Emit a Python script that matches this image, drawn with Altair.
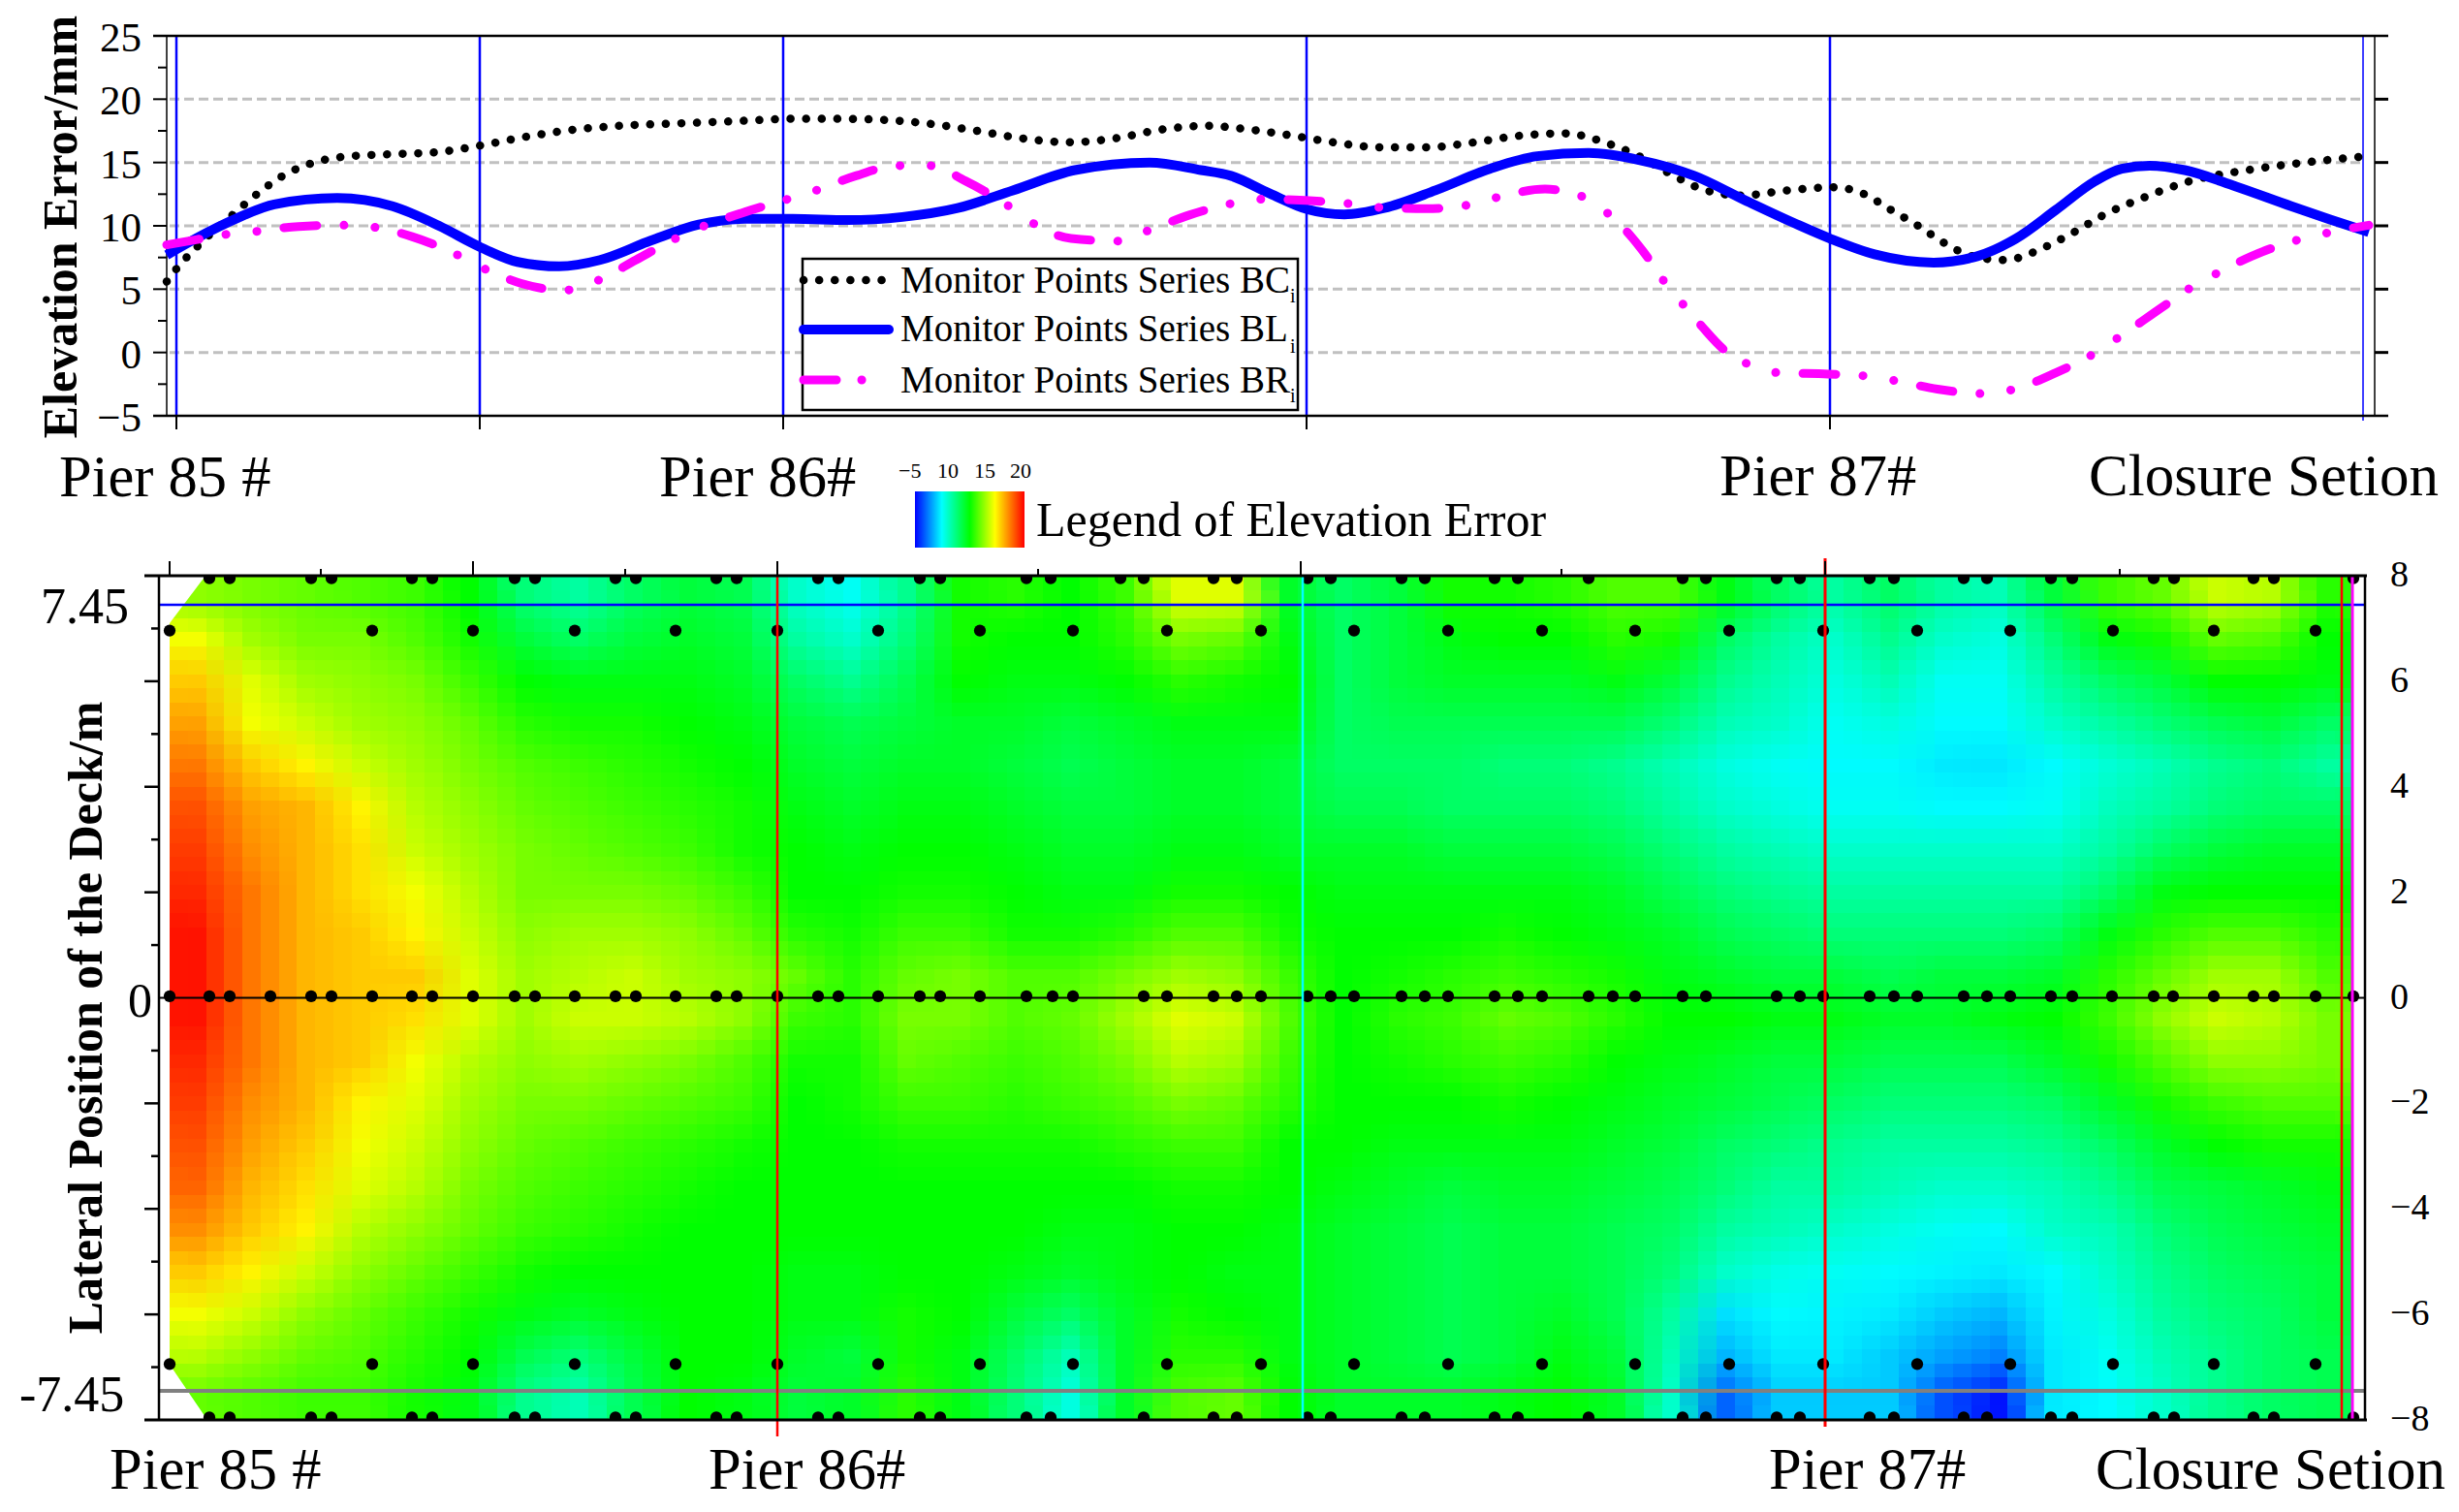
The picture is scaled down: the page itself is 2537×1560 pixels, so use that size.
import altair as alt
import pandas as pd

FONT = "Liberation Serif"

# ---------- upper panel: elevation error curves (x = station along the deck) ----------
bc_x = [-10,0,22,57,83,111,142,172,219,267,314,362,411,458,522,587,636,684,733,778,826,873,921,968,1016,1065,
        1096,1145,1193,1242,1290,1335,1384,1432,1477,1509,1538,1578,1614,1663,1709,1740,1768,1797,1825,1853,1886,
        1930,1959,1987,2032,2076,2141,2190,2254]
bc_v = [5.6,6.6,8.4,10.8,12.5,14,15,15.45,15.65,15.8,16.35,17.05,17.6,17.9,18.1,18.3,18.45,18.45,18.35,18.05,17.5,16.9,16.6,16.9,17.6,17.9,
        17.7,17.2,16.6,16.2,16.2,16.55,17.1,17.3,16.5,15.5,14.25,12.8,12.4,12.8,13.05,12.55,11.3,10,8.6,7.6,7.3,
        8.4,9.55,10.8,12.3,13.5,14.45,14.95,15.45]
bl_x = [-10,20,61,101,166,223,271,314,352,395,437,490,539,587,636,693,749,806,863,927,1004,1057,
        1088,1128,1167,1205,1246,1299,1355,1404,1457,1509,1566,1623,1671,1706,1752,1813,1858,1898,1939,1979,2007,2036,2072,2125,2182,2222,2262]
bl_v = [7.7,9,10.55,11.7,12.2,11.55,10,8.3,7.15,6.8,7.3,8.85,10.1,10.55,10.55,10.45,10.7,11.4,12.8,14.4,15,14.4,
        13.95,12.55,11.3,10.9,11.4,12.8,14.5,15.5,15.75,15.2,13.95,11.85,10.15,9,7.75,7.1,7.6,9,11.25,13.5,14.5,14.75,14.4,13.1,11.55,10.5,9.5]
br_x = [-10,20,49,81,126,170,203,243,286,314,356,399,432,474,510,540,587,626,658,701,743,778,814,856,884,923,970,1000,1045,
        1088,1120,1165,1210,1242,1290,1333,1363,1412,1451,1475,1501,1517,1535,1555,1574,1597,1621,1653,1704,1742,1775,1817,1864,1896,1939,1977,2003,2052,2080,2109,2141,2194,2226,2262]
br_v = [8.5,8.9,9.3,9.55,9.95,10.05,9.9,9.15,7.85,6.75,5.45,4.9,5.6,7.3,8.8,9.85,11.1,12,12.75,13.95,14.75,14.75,13.55,11.7,10.2,9,8.8,9.55,10.85,
        11.75,12.1,12,11.75,11.45,11.35,11.65,12.25,12.9,12.3,11.1,9.15,7.6,5.6,3.75,2.05,0.2,-0.9,-1.6,-1.7,-1.85,-2.25,-2.9,-3.25,-2.9,-1.6,-0.15,1.15,3.75,5.2,6.4,7.6,9,9.55,10.05]
top_piers = [0,313,626,1166,1706,2256]
top_major = [25,20,15,10,5,0,-5]
top_minor = [22.5,17.5,12.5,7.5,2.5,-2.5]
top_grid = [20,15,10,5,0]
top_labels = ["25","20","15","10","5","0","\u22125"]

# ---------- lower panel: contour surface read column by column ----------
heat_cols = [
 [11,13.5,15,16,17,18,18.5,19,19.5,19.5,19.5,19,18.5,18,17.5,16.5,15,13.5,12,10],
 [10.5,11.5,13,13.5,15,16,16.5,17,17,17,17,17,16.5,16,15.5,15,14,12.5,11,9.5],
 [10,10.5,11.5,12.5,14,15.5,15.5,15.5,15.5,15.5,15.5,15.5,15.5,15,14.5,14,12.5,11,10,9],
 [9.5,10.5,11,11.5,12.5,14,14.5,14.5,15,15,15,15,14,13.5,13,12,11,10,9.5,9],
 [9,9.5,10.5,11,11.5,12,12.5,13.5,14,15,14.5,13.5,13,12.5,12,11,10,9,8.5,8],
 [7.5,8,9,10,10.5,11,11.5,12,12.5,13,13,12,11.5,11,10.5,10,9,8,7.5,7],
 [4.5,6,7.5,8.5,9.5,10,10.5,10.5,11,11.5,11.5,11,10.5,10,9.5,9,8,7,5.5,4],
 [3.5,5,7,8,9,9.5,10,10.5,11.5,12,12.5,11.5,10.5,9.5,9,8.5,7.5,6.5,4.5,3],
 [5,6,7,8,8.5,9,9.5,10.5,11.5,12.5,12.5,11,10,9,8.5,8,7.5,7,6,5.5],
 [6,6.5,7,7.5,8,8.5,9,10,11,11.5,12,10.5,9.5,8.5,8,7.5,7.5,7.5,7.5,7.5],
 [5.5,6,6.5,7,7.5,8,8,9,10,11,11,9.5,9,8,7.5,7.5,7.5,7.5,7.5,7],
 [2.5,3.5,5,6,6.5,7,7.5,7.5,8.5,10,9,8,7.5,7.5,7.5,7.5,7,7,6.5,6],
 [1.5,2.5,4,5.5,6,6.5,7,7.5,8,8.5,8.5,8,8,7.5,7.5,7.5,7,7,6,6.5],
 [4,4.5,5.5,6,6.5,7,7.5,8,9,10,10.5,10,9,8,7.5,7.5,7.5,8,8,8.5],
 [8,8,7.5,6.5,6.5,7,7.5,8,9,10.5,10.5,9.5,9,8,7.5,7.5,7.5,7.5,7,7],
 [8.5,7.5,7,6.5,6,6.5,7,7.5,8,9.5,9.5,9,8.5,8,7.5,7.5,7,6,5,4.5],
 [7.5,7.5,7,6,5.5,6,6.5,7,8,9.5,10,9.5,9,8,7.5,7,6.5,5,3,2],
 [9,8.5,7.5,6.5,6,6,6.5,7,8.5,10.5,11.5,10.5,9.5,8.5,7.5,7,7,6.5,6.5,6.5],
 [13,10.5,8.5,7,6.5,6.5,7,8,9.5,11.5,13,12,10.5,9,8,7.5,7.5,8,8.5,9.5],
 [13,10,8,7,6.5,6.5,7,8,9.5,11,12.5,11.5,10,9,8,7.5,7,7.5,8.5,10],
 [6.5,7,7.5,7,6,6,6.5,7.5,8,9,9.5,9,8.5,7.5,7.5,7,7,7,7,7.5],
 [5,5,5,5,5,5.5,6.5,7,7.5,7.5,7.5,7.5,7.5,7.5,7,6.5,6.5,6.5,6.5,6.5],
 [6,6,6,5.5,5,5.5,6.5,7,7.5,8,8.5,8,7.5,7,6.5,6,6,6,6,6.5],
 [8,7,6.5,5.5,5,5,6,7,7.5,8.5,9,8.5,7.5,7,6,5.5,5.5,5.5,5.5,6.5],
 [8,7.5,6.5,5.5,4.5,5,6,7,8,9,10,9,8,7,6.5,6,6,6,6,7],
 [8.5,7.5,6.5,5.5,4.5,5,6,7,7.5,8.5,9.5,8.5,7.5,7,6.5,6,6,6.5,7,7.5],
 [9.5,8.5,7,5.5,4,4.5,5.5,6.5,7,8,8.5,7.5,7,6.5,6,5.5,5.5,5.5,6,6.5],
 [9.5,8,6,4.5,3,3.5,4.5,5.5,6.5,7,7.5,7,6.5,6,5.5,5,4.5,3.5,3,2.5],
 [7,5,4,3,2,2.5,3.5,4.5,5.5,6.5,7.5,6.5,6,5,4.5,3.5,2.5,0.5,-0.5,-2.5],
 [5,3.5,3,2.5,1.5,2,3,4,5,6,7,6,5.5,4.5,3.5,3,1.8,1.2,0.8,0],
 [3.5,2.5,2,1.5,1.2,1.5,2.5,3.5,4.5,6,7,6,5,4,3.5,2.5,1.5,1,0.8,0],
 [5,4,3,2,1.2,1.5,2.5,3.5,4.5,5.5,6.5,5.5,4.5,3.5,3,2,1.2,0.8,0,0],
 [3.5,2.5,1.5,1.2,0.8,1.2,2.5,3.5,4.5,6,6.5,5.5,4.5,3.5,2.5,1.5,1,0,-1,-3],
 [3,2,1.5,1.2,0.7,1.2,2.5,3.5,4.5,6,7,5.5,4.5,3.5,2.5,1.2,0.8,-0.5,-1.8,-4.5],
 [6,4.5,3.5,2.5,1.2,1.5,2.5,3.5,5,6.5,7.5,6.5,5,4,3,2.5,1.2,1,0.8,0.8],
 [9,7,5,3.5,2.2,2.8,3.5,5,7,8.5,9,8,6.5,5,4,3,2.5,2,1.5,1.2],
 [10,8,6,4.5,3,3.5,5,7,8.5,10,11,9.5,8,6.5,5.5,4.5,4,3.5,3,2.5],
 [12.5,10,7.5,5.5,4,4.5,6,7.5,9.5,11.5,12.5,11,9,7.5,6,5.5,5,4.5,4,4],
 [12,9.5,7.5,6,4.5,5,6.5,7.5,9.5,11.5,12,11,9.5,8,6.5,6,5.5,5,5,5],
 [8.5,7.5,7,5,3.5,5,6.5,7.5,8.5,9.5,10.5,10.5,9.5,8,7,6.5,6,6,5.5,5.5],
]
heat_levels = [-5, 1.25, 7.5, 13.75, 20]
heat_colors = ["#0000ff", "#00ffff", "#00ff00", "#ffff00", "#ff0000"]
surface_end = 2253

dots_edge_top = [41,62,146,167,250,271,356,377,460,481,564,585,669,690,774,795,884,909,981,1005,1077,
                 1101,1174,1198,1271,1295,1367,1391,1464,1561,1585,1658,1682,1754,1779,1851,1875,1941,1963,2047,2068,2150,2171,2253]
dots_edge_bot = [41,62,146,167,250,271,356,377,460,481,564,585,669,690,774,795,884,909,1005,1077,
                 1101,1174,1198,1271,1295,1367,1391,1464,1561,1585,1658,1682,1754,1779,1851,1875,1941,1963,2047,2068,2150,2171,2253]
dots_inner = [0,209,313,418,522,627,731,836,932,1029,1126,1222,1319,1416,1512,1609,1706,1803,1899,2005,2109,2214]
dots_center = [0,41,62,104,146,167,209,250,271,313,356,377,418,460,481,522,564,585,627,669,690,731,774,795,836,884,911,932,1005,1029,1077,
               1101,1126,1174,1198,1222,1271,1295,1319,1367,1391,1416,1464,1489,1512,1561,1585,1658,1682,1706,1754,1779,1803,1851,1875,1899,1941,1963,2004,2047,2067,2109,2150,2171,2214,2253]
row_levels = [7.95, 6.96, 0.03, -6.94, -7.95]

bot_major_x = [0,313,627,1167,1708]
bot_minor_x = [156,470,896,1436,2012]
right_ticks = [8,6,4,2,0,-2,-4,-6,-8]
right_labels = ["8","6","4","2","0","\u22122","\u22124","\u22126","\u22128"]
left_major = [6,4,2,-2,-4,-6]
left_minor = [7,5,3,1,-1,-3,-5,-7]

# ---------- scales ----------
X_TOP = alt.Scale(domain=[-24, 2282])
Y_TOP = alt.Scale(domain=[-5, 25])
X_BOT = alt.Scale(domain=[-17, 2267])
Y_BOT = alt.Scale(domain=[-8, 8])
W_TOP, H_TOP = 2306, 392
W_BOT, H_BOT = 2284, 871
ONE = pd.DataFrame({"a": [0]})


def vals(**k):
    return pd.DataFrame(k)


def box_rule(x0, y0, x1, y1, color="black", w=2.5, **kw):
    return alt.Chart(ONE).mark_rule(color=color, strokeWidth=w, **kw).encode(
        x=alt.value(x0), x2=alt.value(x1), y=alt.value(y0), y2=alt.value(y1))


def label(text, x, y, size, align="left", bold=False, angle=None, baseline="alphabetic"):
    kw = {"angle": angle} if angle is not None else {}
    return alt.Chart(vals(t=[text])).mark_text(
        font=FONT, fontSize=size, align=align, baseline=baseline, color="black",
        fontWeight="bold" if bold else "normal", **kw
    ).encode(x=alt.value(x), y=alt.value(y), text="t:N")


# ---------- upper panel ----------
def TX(px):
    return px - 158


def TY(py):
    return py - 37


def x_t(f):
    return alt.X(f, type="quantitative", scale=X_TOP, axis=None)


def y_t(f):
    return alt.Y(f, type="quantitative", scale=Y_TOP, axis=None)


grid = alt.Chart(vals(v=top_grid)).mark_rule(color="#c0c0c0", strokeWidth=3, strokeDash=[10, 5]).encode(
    y=y_t("v"), x=alt.value(TX(175)), x2=alt.value(TX(2440)))
pier_lines = alt.Chart(vals(p=top_piers[:-1])).mark_rule(color="#0000ff", strokeWidth=2.5).encode(
    x=x_t("p"), y=alt.value(0), y2=alt.value(H_TOP))
pier_ticks = alt.Chart(vals(p=top_piers[:-1])).mark_rule(color="black", strokeWidth=2).encode(
    x=x_t("p"), y=alt.value(H_TOP), y2=alt.value(H_TOP + 14))
end_line = alt.Chart(vals(p=top_piers[-1:])).mark_rule(color="#0000ff", strokeWidth=1.5).encode(
    x=x_t("p"), y=alt.value(0), y2=alt.value(H_TOP + 5))
tick_major = alt.Chart(vals(v=top_major)).mark_rule(color="black", strokeWidth=2).encode(
    y=y_t("v"), x=alt.value(0), x2=alt.value(14))
tick_minor = alt.Chart(vals(v=top_minor)).mark_rule(color="black", strokeWidth=2).encode(
    y=y_t("v"), x=alt.value(5), x2=alt.value(14))
tick_right = alt.Chart(vals(v=top_grid)).mark_rule(color="black", strokeWidth=3).encode(
    y=y_t("v"), x=alt.value(TX(2450)), x2=alt.value(TX(2464)))
tick_text = alt.Chart(vals(v=top_major, t=top_labels)).mark_text(
    font=FONT, fontSize=43, align="right", baseline="middle", dy=3, color="black").encode(
    y=y_t("v"), x=alt.value(TX(146)), text="t:N")

curve_bc = alt.Chart(vals(x=bc_x, v=bc_v)).mark_line(
    color="black", strokeWidth=8.5, strokeCap="round", strokeDash=[0.1, 16], interpolate="monotone").encode(
    x=x_t("x"), y=y_t("v"))
curve_bl = alt.Chart(vals(x=bl_x, v=bl_v)).mark_line(
    color="#0000ff", strokeWidth=10, interpolate="monotone").encode(x=x_t("x"), y=y_t("v"))
curve_br = alt.Chart(vals(x=br_x, v=br_v)).mark_line(
    color="#ff00ff", strokeWidth=9, strokeCap="round", strokeDash=[34, 28, 0.1, 32, 0.1, 28],
    interpolate="monotone").encode(x=x_t("x"), y=y_t("v"))

legend_box = alt.Chart(ONE).mark_rect(fill="white", stroke="black", strokeWidth=2.5).encode(
    x=alt.value(TX(828)), x2=alt.value(TX(1339)), y=alt.value(TY(267)), y2=alt.value(TY(423)))
legend_rows = []
for name, row_y, base, sub_base, kw in [
    ("BC", 289, 302, 312, dict(color="black", w=8.5, strokeCap="round", strokeDash=[0.1, 16])),
    ("BL", 340, 352, 364, dict(color="#0000ff", w=10, strokeCap="round")),
    ("BR", 392, 405, 415, dict(color="#ff00ff", w=9, strokeCap="round", strokeDash=[34, 26, 0.1, 60])),
]:
    legend_rows.append(box_rule(TX(829), TY(row_y), TX(917), TY(row_y), **kw))
    legend_rows.append(label("Monitor Points Series " + name, TX(929), TY(base), 39))
    legend_rows.append(label("i", TX(1331), TY(sub_base), 20))

bar = alt.Chart(ONE).mark_rect(color=alt.LinearGradient(
    gradient="linear", x1=0, x2=1, y1=0, y2=0,
    stops=[alt.GradientStop(color="#0000ff", offset=0),
           alt.GradientStop(color="#00ffff", offset=0.245),
           alt.GradientStop(color="#00ff00", offset=0.5),
           alt.GradientStop(color="#ffff00", offset=0.73),
           alt.GradientStop(color="#ff0000", offset=1)])).encode(
    x=alt.value(TX(944)), x2=alt.value(TX(1057)), y=alt.value(TY(507)), y2=alt.value(TY(565)))

top = alt.layer(
    grid, pier_lines, pier_ticks, end_line,
    box_rule(0, 0, W_TOP, 0), box_rule(0, H_TOP, W_TOP, H_TOP),
    box_rule(TX(172), 0, TX(172), H_TOP, w=1.5), box_rule(TX(2450), 0, TX(2450), H_TOP, w=1.5),
    tick_major, tick_minor, tick_right, tick_text,
    curve_bc, curve_bl, curve_br, legend_box, *legend_rows, bar,
    label("Elevation Error/mm", TX(79), TY(234), 50, align="center", bold=True, angle=270),
    label("Pier 85 #", TX(61), TY(512), 60.5),
    label("Pier 86#", TX(680), TY(512), 60.5),
    label("Pier 87#", TX(1774), TY(511), 60.5),
    label("Closure Setion", TX(2155), TY(511), 61),
    label("\u22125", TX(927), TY(493), 22), label("10", TX(967), TY(493), 22),
    label("15", TX(1005), TY(493), 22), label("20", TX(1042), TY(493), 22),
    label("Legend of Elevation Error", TX(1069), TY(553), 50),
).properties(width=W_TOP, height=H_TOP)


# ---------- lower panel ----------
def BX(px):
    return px - 158


def BY(py):
    return py - 594


def x_b(f):
    return alt.X(f, type="quantitative", scale=X_BOT, axis=None)


def y_b(f):
    return alt.Y(f, type="quantitative", scale=Y_BOT, axis=None)


n_cols, n_rows = len(heat_cols), len(heat_cols[0])
col_w, row_px = surface_end / n_cols, H_BOT / n_rows
to_y = lambda p: 8 - p * 16 / H_BOT
color_enc = alt.Color("z:Q", legend=None,
                      scale=alt.Scale(domain=heat_levels, range=heat_colors, interpolate="rgb"))


def heat_layer(dx, dy, alpha):
    # the same read cells drawn again, shifted by part of a cell, so that edges soften
    cells = []
    for i, col in enumerate(heat_cols):
        x0 = max(0, round((i + dx) * col_w))
        x1 = min(surface_end, round((i + 1 + dx) * col_w))
        for j, z in enumerate(col):
            p0 = max(0, round((j + dy) * row_px))
            p1 = min(H_BOT, round((j + 1 + dy) * row_px))
            if x1 > x0 and p1 > p0:
                cells.append({"x": x0, "x2": x1, "y": to_y(p0), "y2": to_y(p1), "z": z})
    return alt.Chart(pd.DataFrame(cells)).mark_rect(clip=True, opacity=alpha).encode(
        x=x_b("x"), x2="x2:Q", y=y_b("y"), y2="y2:Q", color=color_enc)


shifts = [(0, 0), (-1/3, -1/3), (1/3, 1/3), (-1/3, 1/3), (1/3, -1/3),
          (0, -1/3), (0, 1/3), (-1/3, 0), (1/3, 0)]
heat_layers = [heat_layer(dx, dy, 1 / (k + 1)) for k, (dx, dy) in enumerate(shifts)]

mask_top = alt.Chart(vals(x=[0, 37], y=[7.1, 8], y2=[8, 8])).mark_area(color="white", clip=True).encode(
    x=x_b("x"), y=y_b("y"), y2="y2:Q")
mask_bot = alt.Chart(vals(x=[0, 37], y=[-6.95, -7.95], y2=[-8, -8])).mark_area(color="white", clip=True).encode(
    x=x_b("x"), y=y_b("y"), y2="y2:Q")

dot_rows = pd.concat([
    vals(x=dots_edge_top, y=row_levels[0]),
    vals(x=dots_inner, y=row_levels[1]),
    vals(x=dots_center, y=row_levels[2]),
    vals(x=dots_inner, y=row_levels[3]),
    vals(x=dots_edge_bot, y=row_levels[4]),
])
dots = alt.Chart(dot_rows).mark_circle(color="black", opacity=1, size=150, clip=True).encode(
    x=x_b("x"), y=y_b("y"))


def bline(x0, x1, y, color, w):
    return alt.Chart(vals(v=[y])).mark_rule(color=color, strokeWidth=w).encode(
        y=y_b("v"), x=alt.value(x0), x2=alt.value(x1))


def vline(st, y0, y1, color, w):
    return alt.Chart(vals(p=[st])).mark_rule(color=color, strokeWidth=w).encode(
        x=x_b("p"), y=alt.value(y0), y2=alt.value(y1))


ticks_top_major = alt.Chart(vals(p=bot_major_x)).mark_rule(color="black", strokeWidth=2).encode(
    x=x_b("p"), y=alt.value(-15), y2=alt.value(0))
ticks_top_minor = alt.Chart(vals(p=bot_minor_x)).mark_rule(color="black", strokeWidth=2).encode(
    x=x_b("p"), y=alt.value(-7), y2=alt.value(0))
ticks_left_major = alt.Chart(vals(v=left_major)).mark_rule(color="black", strokeWidth=2.5).encode(
    y=y_b("v"), x=alt.value(BX(149)), x2=alt.value(BX(164)))
ticks_left_minor = alt.Chart(vals(v=left_minor)).mark_rule(color="black", strokeWidth=2.5).encode(
    y=y_b("v"), x=alt.value(BX(156)), x2=alt.value(BX(164)))
right_text = alt.Chart(vals(v=right_ticks, t=right_labels)).mark_text(
    font=FONT, fontSize=38, align="left", baseline="middle", color="black").encode(
    y=y_b("v"), x=alt.value(BX(2466)), text="t:N")

bottom = alt.layer(
    *heat_layers, mask_top, mask_bot, dots,
    bline(BX(164), BX(2440), 7.45, "#0000ff", 2.5),
    bline(BX(164), BX(2440), 0, "black", 2),
    bline(BX(164), BX(2440), -7.45, "#808080", 4),
    vline(627, 0, H_BOT + 17, "#ff0000", 2.5),
    vline(1169, 0, H_BOT, "#00ffff", 2.5),
    vline(1708, -18, H_BOT + 7, "#ff0000", 3),
    vline(2241, 0, H_BOT, "#ff0000", 2.5),
    vline(2252, 0, H_BOT, "#ff00ff", 3),
    box_rule(BX(149), 0, BX(2442), 0, w=3),
    box_rule(BX(149), H_BOT, BX(2442), H_BOT, w=3),
    box_rule(BX(164), 0, BX(164), H_BOT, w=2.5),
    box_rule(BX(2440), 0, BX(2440), H_BOT, w=2.5),
    ticks_top_major, ticks_top_minor, ticks_left_major, ticks_left_minor, right_text,
    label("7.45", BX(42), BY(643), 52),
    label("0", BX(132), BY(1049), 50),
    label("-7.45", BX(20), BY(1456), 52),
    label("Lateral Position of the Deck/m", BX(105), BY(1050), 50, align="center", bold=True, angle=270),
    label("Pier 85 #", BX(113), BY(1536), 60.5),
    label("Pier 86#", BX(731), BY(1536), 60.5),
    label("Pier 87#", BX(1825), BY(1536), 60.5),
    label("Closure Setion", BX(2162), BY(1536), 61),
).properties(width=W_BOT, height=H_BOT)

chart = alt.vconcat(top, bottom, spacing=165, bounds="flush").properties(
    padding={"left": 12, "top": 7, "right": 0, "bottom": 0}
).configure_view(stroke=None)

chart.save("out.html", embed_options={"renderer": "svg", "actions": False})
